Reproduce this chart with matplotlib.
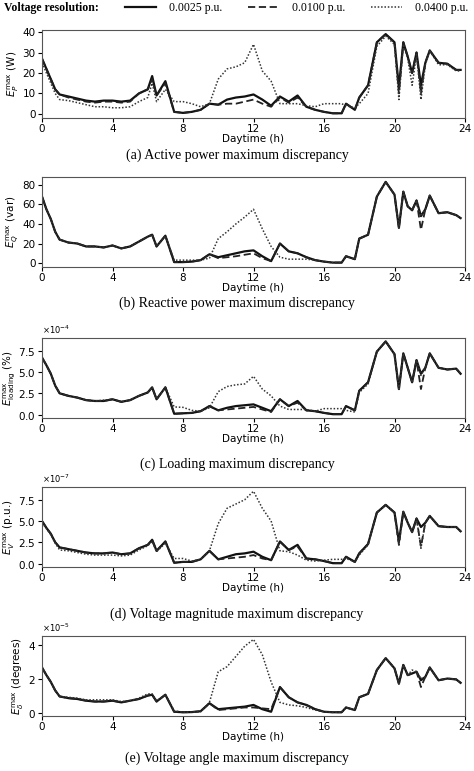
import matplotlib
matplotlib.use("Agg")
import matplotlib.pyplot as plt
from matplotlib.lines import Line2D

plt.rcParams['mathtext.fontset'] = 'dejavusans'

X = [0,0.25,0.5,0.75,1,1.5,2,2.5,3,3.5,4,4.5,5,5.5,6,6.25,6.5,7,7.5,8,8.5,9,9.5,10,10.5,11,11.5,12,12.5,13,13.5,14,14.5,15,15.5,16,16.5,17,17.25,17.75,18,18.5,19,19.5,20,20.25,20.5,20.75,21,21.25,21.5,21.75,22,22.5,23,23.5,23.75]

A_s = [27,22,17,12,9.5,8.5,7.5,6.5,6,6.5,6.5,6,6.5,10,12,18.5,9,16,1,0.5,1,2,5,4.5,7,8,8.5,9.5,7,4,8.5,6,9,3.5,2,1,0.3,0.3,5,2,8,14,35,39,35,13,35,28,20,30,14,25,31,25,24.5,21.5,21.5]
A_d = [27,22,17,12,9.5,8,7,6,5.5,6,6,5.5,6,10,12,17,9,15,1,0.5,1,2,5,4.5,5,5,6,7,5,3.5,8,5.5,8,3.5,2,1,0.3,0.3,5,2,8,14,35,39,35,10,35,28,20,30,10,25,31,25,24.5,21.5,21.5]
A_o = [25,20,15,10,7,6.5,5.5,4.5,3.5,3.5,3,3,3.5,6,8,15,6,12,6,6,5,3.5,5,17,22,23,25,34,21,16,5,5,5,4,3.5,5,5,5,4,3,5,10,33,38,34,7,34,27,14,29,7,24,31,24,24,21,21]

B_s = [68,55,45,32,24,21,20,17,17,16,18,15,17,22,27,29,17,28,1,1,1.5,3,9,6,8,10,12,13,7,2,20,12,10,6,3,1.5,0.5,0.5,7,4,25,29,68,83,70,36,73,58,54,64,48,55,69,51,52,49,46]
B_d = [68,55,45,32,24,21,20,17,17,16,18,15,17,22,27,29,17,28,1,1,1.5,3,9,5,6,7,8.5,10,5,2,20,12,10,6,3,1.5,0.5,0.5,7,4,25,29,68,83,70,36,73,58,54,64,34,55,69,51,52,49,46]
B_o = [68,55,45,32,24,21,20,17,17,16,18,15,17,22,27,29,17,28,3,3,3,3,5,25,32,40,47,55,35,17,6,4,4,4,3,1.5,0.5,0.5,7,4,25,29,68,83,70,36,73,58,54,64,48,55,69,51,52,49,46]

C_s = [6.7,5.8,4.8,3.4,2.5,2.2,2.0,1.7,1.6,1.6,1.8,1.5,1.7,2.2,2.6,3.2,1.8,3.2,0.1,0.15,0.2,0.4,1.0,0.5,0.8,1.0,1.1,1.2,0.8,0.4,1.8,1.0,1.6,0.5,0.4,0.2,0.05,0.05,1.0,0.5,2.8,3.8,7.4,8.6,7.1,3.0,7.2,5.5,3.8,6.4,4.8,5.5,7.2,5.5,5.3,5.4,4.8]
C_d = [6.7,5.8,4.8,3.4,2.5,2.2,2.0,1.7,1.6,1.6,1.8,1.5,1.7,2.2,2.6,3.2,1.8,3.2,0.1,0.15,0.2,0.4,1.0,0.5,0.6,0.7,0.8,0.9,0.6,0.3,1.8,1.0,1.4,0.5,0.4,0.2,0.05,0.05,1.0,0.5,2.8,3.8,7.4,8.6,7.1,3.0,7.2,5.5,3.8,6.4,3.0,5.5,7.2,5.5,5.3,5.4,4.8]
C_o = [6.7,5.8,4.8,3.4,2.5,2.2,2.0,1.7,1.6,1.7,1.8,1.5,1.7,2.2,2.6,3.2,1.8,3.2,0.9,0.85,0.5,0.4,0.8,2.7,3.3,3.5,3.6,4.5,3.0,2.2,1.0,0.6,0.6,0.6,0.4,0.7,0.7,0.7,0.5,0.3,2.6,3.6,7.4,8.6,7.1,3.0,7.2,5.5,3.8,6.4,4.6,5.5,7.2,5.5,5.3,5.4,4.8]

D_s = [5.0,4.2,3.5,2.5,1.9,1.7,1.5,1.3,1.2,1.2,1.3,1.1,1.2,1.8,2.2,2.8,1.5,2.6,0.1,0.2,0.2,0.5,1.5,0.5,0.8,1.1,1.2,1.4,0.8,0.4,2.6,1.6,2.2,0.6,0.5,0.3,0.05,0.05,0.8,0.2,1.2,2.3,6.0,6.9,6.0,2.6,6.1,4.8,3.7,5.3,4.3,4.8,5.6,4.4,4.3,4.3,3.8]
D_d = [5.0,4.2,3.5,2.5,1.9,1.7,1.5,1.3,1.2,1.2,1.3,1.1,1.2,1.8,2.2,2.8,1.5,2.6,0.1,0.2,0.2,0.5,1.5,0.5,0.6,0.7,0.8,1.0,0.6,0.4,2.6,1.6,2.0,0.6,0.5,0.3,0.05,0.05,0.8,0.2,1.2,2.3,6.0,6.9,6.0,2.2,6.1,4.8,3.7,5.3,2.0,4.8,5.6,4.4,4.3,4.3,3.8]
D_o = [4.8,4.1,3.4,2.4,1.6,1.5,1.3,1.1,1.0,1.0,1.0,0.9,1.0,1.6,2.1,2.6,1.4,2.4,0.6,0.6,0.3,0.5,1.5,4.7,6.5,7.0,7.5,8.5,6.5,5.0,1.5,1.4,1.0,0.4,0.3,0.4,0.5,0.5,0.6,0.2,1.0,2.2,6.0,6.9,6.0,2.2,6.1,4.8,3.7,5.3,1.8,4.8,5.6,4.4,4.3,4.3,3.8]

E_s = [2.65,2.2,1.8,1.3,0.95,0.85,0.8,0.7,0.65,0.65,0.7,0.6,0.7,0.8,1.0,1.05,0.65,1.05,0.05,0.02,0.03,0.08,0.55,0.2,0.25,0.3,0.35,0.45,0.2,0.05,1.5,0.9,0.6,0.45,0.2,0.05,0.02,0.02,0.3,0.15,0.9,1.1,2.5,3.2,2.6,1.7,2.8,2.2,2.3,2.4,1.9,2.1,2.65,1.9,2.0,1.95,1.75]
E_d = [2.65,2.2,1.8,1.3,0.95,0.85,0.8,0.7,0.65,0.65,0.7,0.6,0.7,0.8,1.0,1.05,0.65,1.05,0.05,0.02,0.03,0.08,0.55,0.15,0.2,0.25,0.3,0.3,0.25,0.2,1.5,0.9,0.6,0.45,0.2,0.05,0.02,0.02,0.3,0.15,0.9,1.1,2.5,3.2,2.6,1.7,2.8,2.2,2.3,2.4,1.5,2.1,2.65,1.9,2.0,1.95,1.75]
E_o = [2.65,2.2,1.8,1.3,0.95,0.9,0.85,0.75,0.75,0.75,0.75,0.65,0.7,0.85,1.1,1.1,0.7,1.05,0.1,0.03,0.03,0.05,0.6,2.4,2.7,3.3,3.9,4.3,3.4,1.8,0.6,0.45,0.4,0.3,0.15,0.05,0.02,0.02,0.3,0.15,0.9,1.1,2.5,3.2,2.6,1.7,2.8,2.2,2.5,2.4,2.0,2.1,2.65,1.9,2.0,1.95,1.75]

panels = [
    (A_s, A_d, A_o, 1, r'$E_P^{\max}$ (W)', [0,10,20,30,40], (-2, 41), 'a', 'Active power maximum discrepancy'),
    (B_s, B_d, B_o, 1, r'$E_Q^{\max}$ (var)', [0,20,40,60,80], (-4, 88), 'b', 'Reactive power maximum discrepancy'),
    (C_s, C_d, C_o, 1e-4, r'$E_{\rm loading}^{\max}$ (%)', [0, 2.5e-4, 5e-4, 7.5e-4], (-0.4e-4, 9.0e-4), 'c', 'Loading maximum discrepancy'),
    (D_s, D_d, D_o, 1e-7, r'$E_V^{\max}$ (p.u.)', [0, 2.5e-7, 5e-7, 7.5e-7], (-0.4e-7, 9.0e-7), 'd', 'Voltage magnitude maximum discrepancy'),
    (E_s, E_d, E_o, 1e-5, r'$E_\delta^{\max}$ (degrees)', [0e-5, 2e-5, 4e-5], (-0.2e-5, 4.5e-5), 'e', 'Voltage angle maximum discrepancy'),
]

W, H = 474, 771
fig = plt.figure(figsize=(W/100, H/100), dpi=100)
boxes = [(30, 118), (177, 267), (338, 418), (487, 567), (636, 716)]
captions_y = [155, 303, 464, 614, 758]
serif = ['Liberation Serif', 'DejaVu Serif']
styles = [dict(ls='-', lw=1.6, color='#111111'),
          dict(ls=(0, (4, 2)), lw=1.3, color='#222222'),
          dict(ls=(0, (1, 1.2)), lw=1.1, color='#333333')]

for (s, d, o, sc, yl, yt, ylim, letter, cap), (t, b), cy in zip(panels, boxes, captions_y):
    ax = fig.add_axes([42/W, 1 - b/H, (465-42)/W, (b - t)/H])
    for ser, st in zip((s, d, o), styles):
        ax.plot(X, [v*sc for v in ser], **st)
    ax.set_xlim(0, 24)
    ax.set_xticks([0, 4, 8, 12, 16, 20, 24])
    ax.set_ylim(*ylim)
    ax.set_yticks(yt)
    if sc != 1:
        ax.ticklabel_format(axis='y', style='sci', scilimits=(0, 0), useMathText=True)
        ax.yaxis.get_offset_text().set_fontsize(6)
    ax.tick_params(labelsize=7.5, length=3, width=0.8, pad=1.5)
    ax.set_xlabel('Daytime (h)', fontsize=7.5, labelpad=0)
    ax.set_ylabel(yl, fontsize=7.5, labelpad=1)
    for sp in ax.spines.values():
        sp.set_color('#555555')
    fig.text(237/W, 1 - cy/H, '(' + letter + ') ' + cap, ha='center', va='center',
             fontsize=10, family=serif)

fig.text(4/W, 1 - 8/H, 'Voltage resolution:', fontsize=8.5, family=serif, weight='bold', va='center')
handles = [Line2D([], [], **st) for st in styles]
fig.legend(handles, ['0.0025 p.u.', '0.0100 p.u.', '0.0400 p.u.'], ncol=3,
           loc='center right', bbox_to_anchor=(1.0, 1 - 8/H), frameon=False,
           prop={'family': serif, 'size': 8.5}, handlelength=2.6, columnspacing=2.2,
           handletextpad=1.1, borderaxespad=0.1)

fig.savefig('out.png', dpi=100)
